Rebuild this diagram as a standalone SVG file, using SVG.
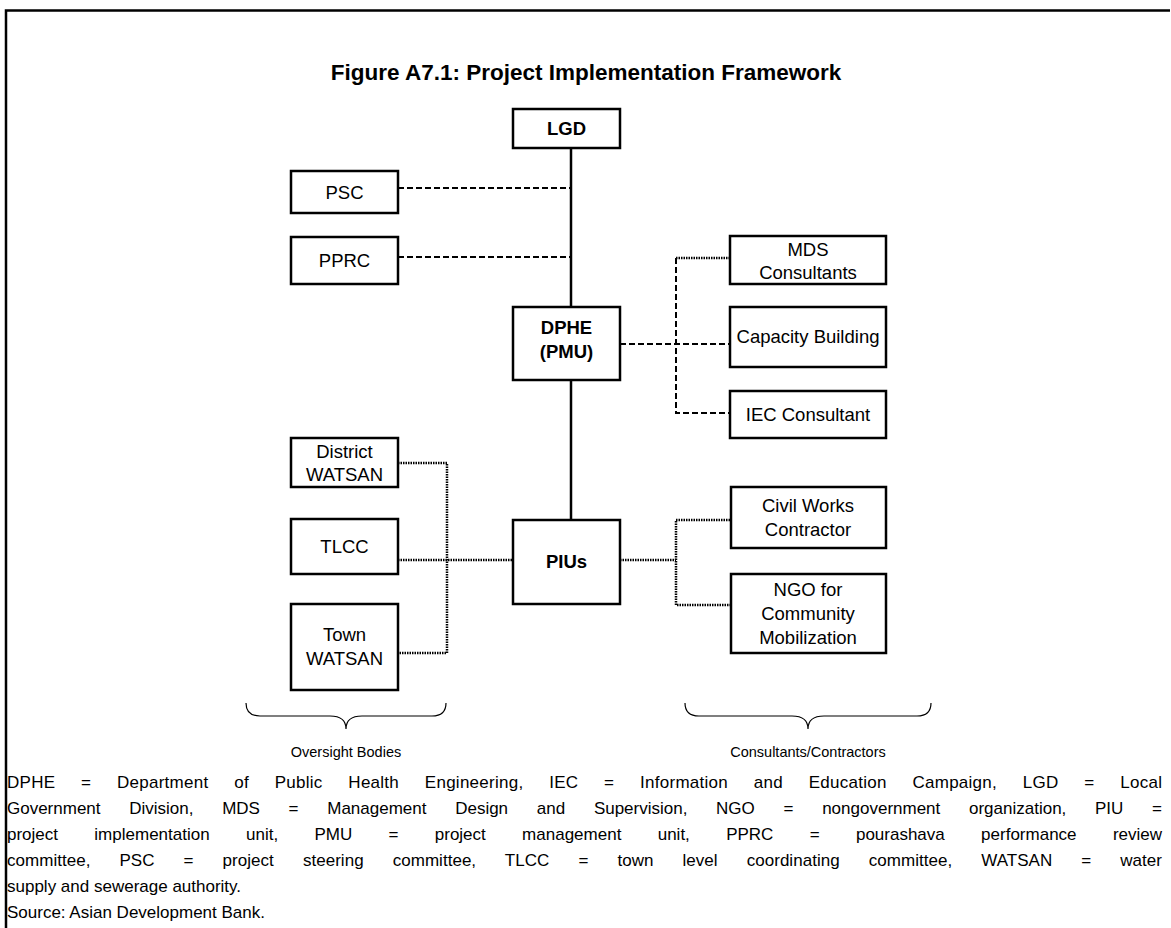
<svg xmlns="http://www.w3.org/2000/svg" width="1171" height="928" viewBox="0 0 1171 928">
<style>
text{font-family:"Liberation Sans",Arial,sans-serif;fill:#000}
.box{fill:#fff;stroke:#000;stroke-width:2.5}
.nt{font-size:18.5px;text-anchor:middle}
.bt{font-size:18.5px;font-weight:bold;text-anchor:middle}
.solid{stroke:#000;stroke-width:2.5;fill:none}
.dash{stroke:#000;stroke-width:2;stroke-dasharray:6,3;fill:none}
.dot{stroke:#000;stroke-width:2.5;stroke-dasharray:1.5,1;fill:none}
.fn{font-size:17px}
.lab{font-size:14.5px;text-anchor:middle}
</style>
<rect x="0" y="0" width="1171" height="928" fill="#fff"/>
<path d="M6,940 V10.5 H1170" fill="none" stroke="#000" stroke-width="2.5"/>
<text x="586" y="80" font-size="22.5" font-weight="bold" text-anchor="middle">Figure A7.1: Project Implementation Framework</text>
<g id="connectors">
<line class="solid" x1="571" y1="148" x2="571" y2="307"/>
<line class="solid" x1="571" y1="380" x2="571" y2="520"/>
<line class="dash" x1="398" y1="188" x2="571" y2="188"/>
<line class="dash" x1="398" y1="257" x2="571" y2="257"/>
<line class="dash" x1="620" y1="344" x2="730" y2="344"/>
<line class="dot" x1="730" y1="258" x2="676" y2="258"/>
<polyline class="dash" points="676,258 676,413 730,413"/>
<polyline class="dot" points="398,463 447,463 447,653 398,653"/>
<line class="dot" x1="398" y1="560" x2="513" y2="560"/>
<line class="dot" x1="620" y1="560" x2="676" y2="560"/>
<polyline class="dot" points="730,520 676,520 676,605 730,605"/>
</g>
<g id="lgd"><rect class="box" x="513" y="109" width="107" height="39"/><text class="bt" x="566.5" y="135">LGD</text></g>
<g id="psc"><rect class="box" x="291" y="171" width="107" height="42"/><text class="nt" x="344.5" y="199">PSC</text></g>
<g id="pprc"><rect class="box" x="291" y="237" width="107" height="47"/><text class="nt" x="344.5" y="267">PPRC</text></g>
<g id="dphe"><rect class="box" x="513" y="307" width="107" height="73"/><text class="bt" x="566.5" y="334">DPHE</text><text class="bt" x="566.5" y="358">(PMU)</text></g>
<g id="mds"><rect class="box" x="730" y="236" width="156" height="48"/><text class="nt" x="808" y="256">MDS</text><text class="nt" x="808" y="279">Consultants</text></g>
<g id="capacity"><rect class="box" x="730" y="307" width="156" height="60"/><text class="nt" x="808" y="343">Capacity Building</text></g>
<g id="iec"><rect class="box" x="730" y="391" width="156" height="47"/><text class="nt" x="808" y="421">IEC Consultant</text></g>
<g id="district"><rect class="box" x="291" y="438" width="107" height="49"/><text class="nt" x="344.5" y="458">District</text><text class="nt" x="344.5" y="481">WATSAN</text></g>
<g id="tlcc"><rect class="box" x="291" y="519" width="107" height="55"/><text class="nt" x="344.5" y="553">TLCC</text></g>
<g id="town"><rect class="box" x="291" y="604" width="107" height="86"/><text class="nt" x="344.5" y="641">Town</text><text class="nt" x="344.5" y="665">WATSAN</text></g>
<g id="pius"><rect class="box" x="513" y="520" width="107" height="84"/><text class="bt" x="566.5" y="568">PIUs</text></g>
<g id="civil"><rect class="box" x="731" y="487" width="155" height="61"/><text class="nt" x="808" y="512">Civil Works</text><text class="nt" x="808" y="536">Contractor</text></g>
<g id="ngo"><rect class="box" x="731" y="574" width="155" height="79"/><text class="nt" x="808" y="596">NGO for</text><text class="nt" x="808" y="620">Community</text><text class="nt" x="808" y="644">Mobilization</text></g>
<g id="braces">
<path d="M246,703 Q246,716 260,716 H330 Q346,716 346,729 Q346,716 362,716 H432 Q446,716 446,703" fill="none" stroke="#000" stroke-width="1.2"/>
<path d="M685,703 Q685,716 699,716 H792 Q808,716 808,729 Q808,716 824,716 H917 Q931,716 931,703" fill="none" stroke="#000" stroke-width="1.2"/>
<text class="lab" x="346" y="757">Oversight Bodies</text>
<text class="lab" x="808" y="757">Consultants/Contractors</text>
</g>
<g id="footnote">
<text class="fn" x="7" y="788" word-spacing="20.8" textLength="1155" lengthAdjust="spacing">DPHE = Department of Public Health Engineering, IEC = Information and Education Campaign, LGD = Local</text>
<text class="fn" x="7" y="814" word-spacing="24" textLength="1155" lengthAdjust="spacing">Government Division, MDS = Management Design and Supervision, NGO = nongovernment organization, PIU =</text>
<text class="fn" x="7" y="840" word-spacing="31.6" textLength="1155" lengthAdjust="spacing">project implementation unit, PMU = project management unit, PPRC = pourashava performance review</text>
<text class="fn" x="7" y="866" word-spacing="24.3" textLength="1155" lengthAdjust="spacing">committee, PSC = project steering committee, TLCC = town level coordinating committee, WATSAN = water</text>
<text class="fn" x="7" y="892">supply and sewerage authority.</text>
<text class="fn" x="7" y="918">Source: Asian Development Bank.</text>
</g>
</svg>
